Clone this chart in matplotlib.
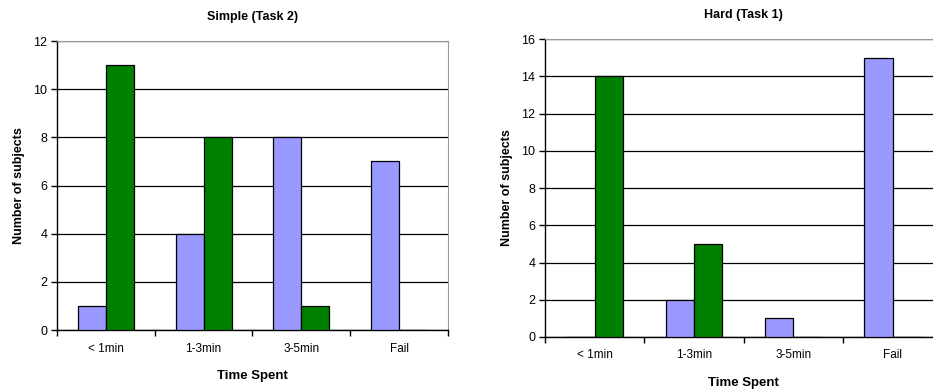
import numpy as np
import matplotlib.pyplot as plt

plt.rcParams['font.family'] = ['Liberation Sans', 'DejaVu Sans']

categories = ["< 1min", "1-3min", "3-5min", "Fail"]

simple_purple = [1, 4, 8, 7]
simple_green = [11, 8, 1, 0]

hard_purple = [0, 2, 1, 15]
hard_green = [14, 5, 0, 0]

PURPLE = "#9999FF"
GREEN = "#008000"


def draw_panel(ax, purple, green, title, ymax):
    # Excel-style clustered columns: gap width 150%
    w = 1 / 3.5
    x = np.arange(len(categories)) + 0.5
    ax.bar(x - w / 2, purple, width=w, color=PURPLE, edgecolor="black",
           linewidth=0.9, zorder=3)
    ax.bar(x + w / 2, green, width=w, color=GREEN, edgecolor="black",
           linewidth=0.9, zorder=3)

    ax.set_xlim(0, len(categories))
    ax.set_ylim(0, ymax)
    ax.set_yticks(np.arange(0, ymax + 1, 2))
    ax.yaxis.grid(True, color="black", linewidth=0.9, zorder=0)
    ax.set_axisbelow(True)

    # category labels between boundary tick marks
    ax.set_xticks(np.arange(len(categories) + 1))
    ax.set_xticklabels([])
    ax.set_xticks(x, minor=True)
    ax.set_xticklabels(categories, minor=True, fontsize=8.5)
    ax.tick_params(axis="x", which="minor", length=0, pad=9)
    ax.tick_params(axis="x", which="major", length=4, width=1, direction="out")
    ax.tick_params(axis="y", length=4, width=1, direction="out", labelsize=9,
                   pad=3)

    for side in ("top", "right"):
        ax.spines[side].set_color("#999999")
    for side in ("left", "bottom"):
        ax.spines[side].set_color("black")
        ax.spines[side].set_linewidth(1.0)

    ax.set_title(title, fontsize=9, fontweight="bold", pad=15)
    ax.set_xlabel("Time Spent", fontsize=9.5, fontweight="bold", labelpad=11)
    ax.set_ylabel("Number of subjects", fontsize=9, fontweight="bold",
                  labelpad=6)


fig = plt.figure(figsize=(9.33, 3.9), dpi=100)
ax1 = fig.add_axes([0.0611, 0.1538, 0.419, 0.741])
ax2 = fig.add_axes([0.5841, 0.1359, 0.426, 0.764])

draw_panel(ax1, simple_purple, simple_green, "Simple (Task 2)", 12)
draw_panel(ax2, hard_purple, hard_green, "Hard (Task 1)", 16)

fig.savefig("out.png", dpi=100)
